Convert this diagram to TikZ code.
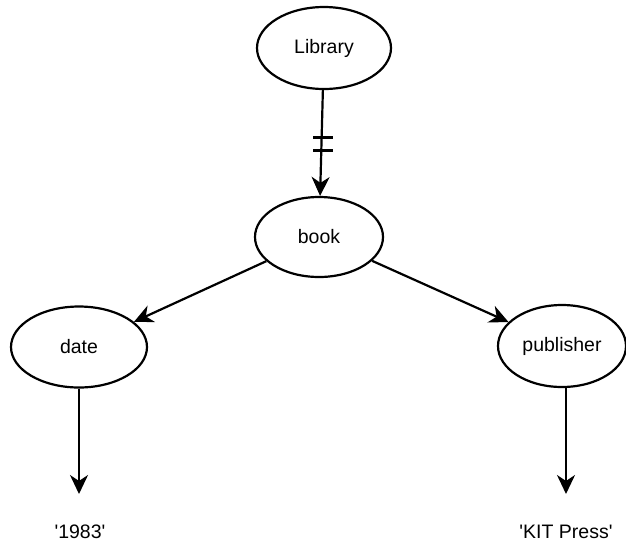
\documentclass[tikz,border=0pt]{standalone}
\usepackage{fontspec}
\setmainfont{Liberation Sans}
\usetikzlibrary{arrows.meta,shapes.geometric}
\begin{document}
\begin{tikzpicture}[x=1pt,y=-1pt,
  ent/.style={draw, line width=2.2pt, ellipse, inner sep=0pt, font=\fontsize{19.5}{22}\selectfont},
  val/.style={font=\fontsize{19.5}{22}\selectfont, inner sep=0pt},
  conn/.style={line width=2.2pt, -{Stealth[length=19pt,width=18pt,inset=6pt]}},
  tick/.style={line width=2.2pt}]
\useasboundingbox (0,0) rectangle (626,547);
\node[ent, minimum width=134pt, minimum height=82pt] (lib) at (324,48) {Library};
\node[ent, minimum width=128pt, minimum height=80pt] (book) at (319,237) {book};
\node[ent, minimum width=136pt, minimum height=81pt] (date) at (79,347) {date};
\node[ent, minimum width=128pt, minimum height=82pt] (pub) at (562,346) {publisher};
\node[val] (y) at (80,532) {\textquotesingle1983\textquotesingle};
\node[val] (kit) at (566,532) {\textquotesingle KIT Press\textquotesingle};
\coordinate (ya) at (79,494);
\coordinate (ka) at (566,494);
\coordinate (pubb) at (566,387);
\draw[conn] (lib) -- (book);
\draw[tick] (313,137.5) -- (333,137.5);
\draw[tick] (313,150.5) -- (333,150.5);
\draw[conn] (book) -- (date);
\draw[conn] (book) -- (pub);
\draw[conn] (date.south) -- (ya);
\draw[conn] (pubb) -- (ka);
\end{tikzpicture}
\end{document}
